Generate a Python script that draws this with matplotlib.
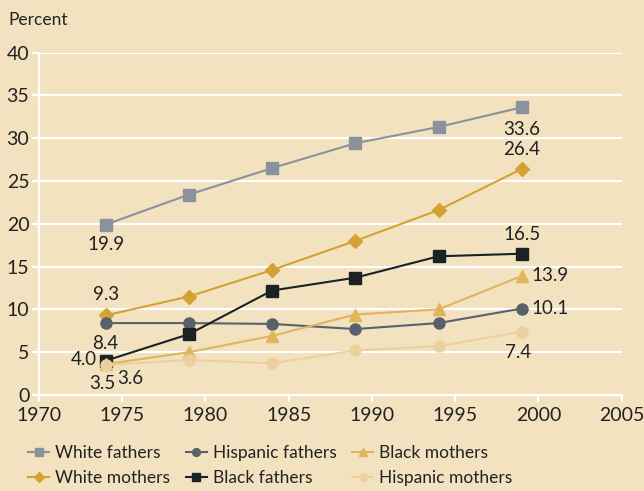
import matplotlib.pyplot as plt

years = [1974, 1979, 1984, 1989, 1994, 1999]
white_fathers = [19.9, 23.4, 26.5, 29.4, 31.3, 33.6]
white_mothers = [9.3, 11.5, 14.6, 18.0, 21.6, 26.4]
hispanic_fathers = [8.4, 8.4, 8.3, 7.7, 8.4, 10.1]
black_fathers = [4.0, 7.1, 12.2, 13.7, 16.2, 16.5]
black_mothers = [3.6, 5.0, 6.9, 9.4, 10.0, 13.9]
hispanic_mothers = [3.5, 4.1, 3.7, 5.2, 5.7, 7.4]

bg = '#F3E2C0'
plt.rcParams['font.family'] = ['Lato', 'DejaVu Sans']

fig = plt.figure(figsize=(6.44, 4.91), dpi=100, facecolor=bg)
ax = fig.add_axes([39/644, 1 - 395/491, (621.7 - 39)/644, (395 - 52.5)/491])
ax.set_facecolor(bg)

# legend order is column-major, so list goes WF, WM, HF, BF, BM, HM
series = [
    ('White fathers', white_fathers, '#8A929B', 's', 8),
    ('White mothers', white_mothers, '#D4A232', 'D', 7),
    ('Hispanic fathers', hispanic_fathers, '#59616A', 'o', 8),
    ('Black fathers', black_fathers, '#1A2225', 's', 8),
    ('Black mothers', black_mothers, '#E0B55C', '^', 9),
    ('Hispanic mothers', hispanic_mothers, '#EDD09F', 'o', 8),
]
for name, vals, col, mk, ms in series:
    ax.plot(years, vals, color=col, marker=mk, markersize=ms, lw=1.5, label=name, zorder=3)

ax.set_xlim(1970, 2005)
ax.set_ylim(0, 40)
ax.set_xticks(range(1970, 2006, 5))
ax.set_yticks(range(0, 41, 5))
ax.grid(axis='y', color='white', lw=1.5)
ax.set_axisbelow(True)
for s in ['top', 'right']:
    ax.spines[s].set_visible(False)
for s in ['left', 'bottom']:
    ax.spines[s].set_color('white')
    ax.spines[s].set_linewidth(1.5)
ax.tick_params(colors='white', width=1.5, length=5, labelsize=14, labelcolor='#222222')
ax.tick_params(axis='y', pad=2)

fig.text(8/644, 1 - 20/491, 'Percent', fontsize=12.5, color='#222222', va='center')

lbl = dict(fontsize=13.5, color='#222222', textcoords='offset points')
ax.annotate('19.9', (years[0], white_fathers[0]), xytext=(0, -14), ha='center', va='center', **lbl)
ax.annotate('33.6', (years[-1], white_fathers[-1]), xytext=(0, -16), ha='center', va='center', **lbl)
ax.annotate('26.4', (years[-1], white_mothers[-1]), xytext=(0, 14), ha='center', va='center', **lbl)
ax.annotate('16.5', (years[-1], black_fathers[-1]), xytext=(0, 14), ha='center', va='center', **lbl)
ax.annotate('13.9', (years[-1], black_mothers[-1]), xytext=(7, 0), ha='left', va='center', **lbl)
ax.annotate('10.1', (years[-1], hispanic_fathers[-1]), xytext=(7, 0), ha='left', va='center', **lbl)
ax.annotate('7.4', (years[-1], hispanic_mothers[-1]), xytext=(-3, -15), ha='center', va='center', **lbl)
ax.annotate('9.3', (years[0], white_mothers[0]), xytext=(0, 15), ha='center', va='center', **lbl)
ax.annotate('8.4', (years[0], hispanic_fathers[0]), xytext=(0, -15), ha='center', va='center', **lbl)
ax.annotate('4.0', (years[0], black_fathers[0]), xytext=(-6, 1), ha='right', va='center', **lbl)
ax.annotate('3.5', (years[0], hispanic_mothers[0]), xytext=(-2, -13), ha='center', va='center', **lbl)
ax.annotate('3.6', (years[0], black_mothers[0]), xytext=(18, -10), ha='center', va='center', **lbl)

leg = ax.legend(loc='upper left', bbox_to_anchor=(-0.045, -0.1), ncol=3, frameon=False,
                fontsize=12.5, handlelength=1.2, markerscale=0.7, columnspacing=0.9,
                handletextpad=0.35, labelspacing=0.55)
for t in leg.get_texts():
    t.set_color('#222222')

fig.savefig('out.png', dpi=100, facecolor=bg)
